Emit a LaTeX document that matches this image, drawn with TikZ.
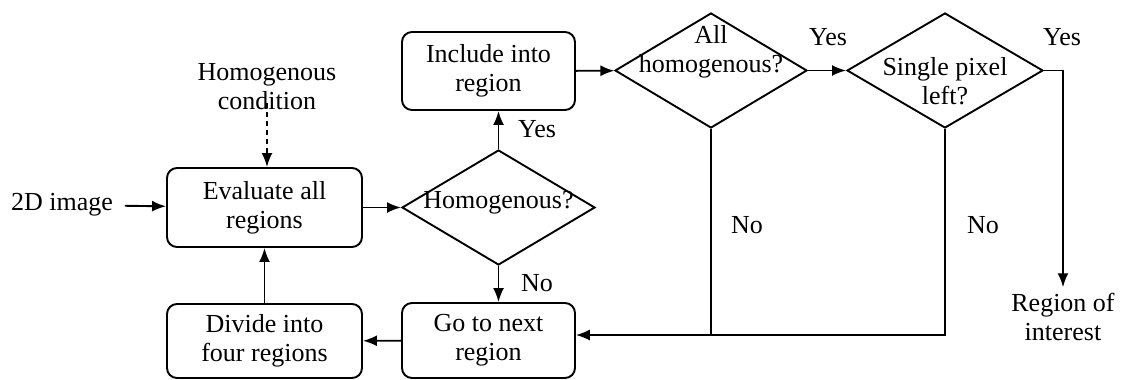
\documentclass[tikz,border=0pt]{standalone}
\usepackage{fontspec}
\setmainfont{Liberation Serif}
\usetikzlibrary{arrows.meta,shapes.geometric}
\begin{document}
\begin{tikzpicture}[x=1pt,y=-1pt,
  font=\fontsize{26}{29}\selectfont,
  line width=1.9pt,
  procbox/.style={draw, rounded corners=10pt, align=center, inner sep=0pt},
  decision/.style={draw, diamond, inner sep=0pt},
  txt/.style={align=center, inner sep=0pt},
  arr/.style={-{Latex[length=14pt,width=11pt]}},
  link/.style={line width=1.5pt}]
\useasboundingbox (0,0) rectangle (1122,380);

% process boxes
\node[procbox, minimum width=195pt, minimum height=79pt] (eval) at (264.5,207.5) {Evaluate all\\regions};
\node[procbox, minimum width=195pt, minimum height=74pt] (div) at (264.5,341) {Divide into\\four regions};
\node[procbox, minimum width=173pt, minimum height=78pt] (inc) at (488.5,71) {Include into\\region};
\node[procbox, minimum width=173pt, minimum height=75pt] (next) at (488.5,340.5) {Go to next\\region};

% decisions
\node[decision, minimum width=193pt, minimum height=115pt] (hom) at (498.5,207.5) {};
\node[decision, minimum width=192pt, minimum height=115pt] (ah) at (711,70.5) {};
\node[decision, minimum width=196pt, minimum height=115pt] (sp) at (945,70.5) {};
\node[txt] (homt) at (498.5,203) {Homogenous?};
\node[txt] (aht) at (711,52) {All\\homogenous?};
\node[txt] (spt) at (945,81) {Single pixel\\left?};

% free texts
\node[txt, inner xsep=11pt] (img) at (62,205) {2D image};
\node[txt] (cond) at (267,87) {Homogenous\\condition};
\node[txt, inner ysep=5pt] (roi) at (1063,317) {Region of\\interest};
\coordinate (j) at (945,335);

% branch labels
\node[txt] (y1) at (537,129) {Yes};
\node[txt] (n1) at (537,283) {No};
\node[txt] (y2) at (828,37) {Yes};
\node[txt] (y3) at (1062,37) {Yes};
\node[txt] (n2) at (747,225) {No};
\node[txt] (n3) at (983,225) {No};

% connectors
\draw[arr] (img) -- (eval);
\draw[arr, dashed, dash pattern=on 5pt off 4pt] ([yshift=8pt]cond.south) -- (cond.south |- eval.north);
\draw[arr] (eval) -- (hom);
\draw[arr] (hom.north) -- (hom.north |- inc.south);
\draw[arr] (hom.south) -- (hom.south |- next.north);
\draw[arr] (inc) -- (ah);
\draw[arr] (ah) -- (sp);
\draw[arr] (sp.east) -| (roi.north);
\draw[link] (ah.south) -- (ah.south |- j);
\draw[arr, link] (sp.south) |- (next.east |- j);
\draw[arr] (next) -- (div);
\draw[arr] (div) -- (eval);
\end{tikzpicture}
\end{document}
